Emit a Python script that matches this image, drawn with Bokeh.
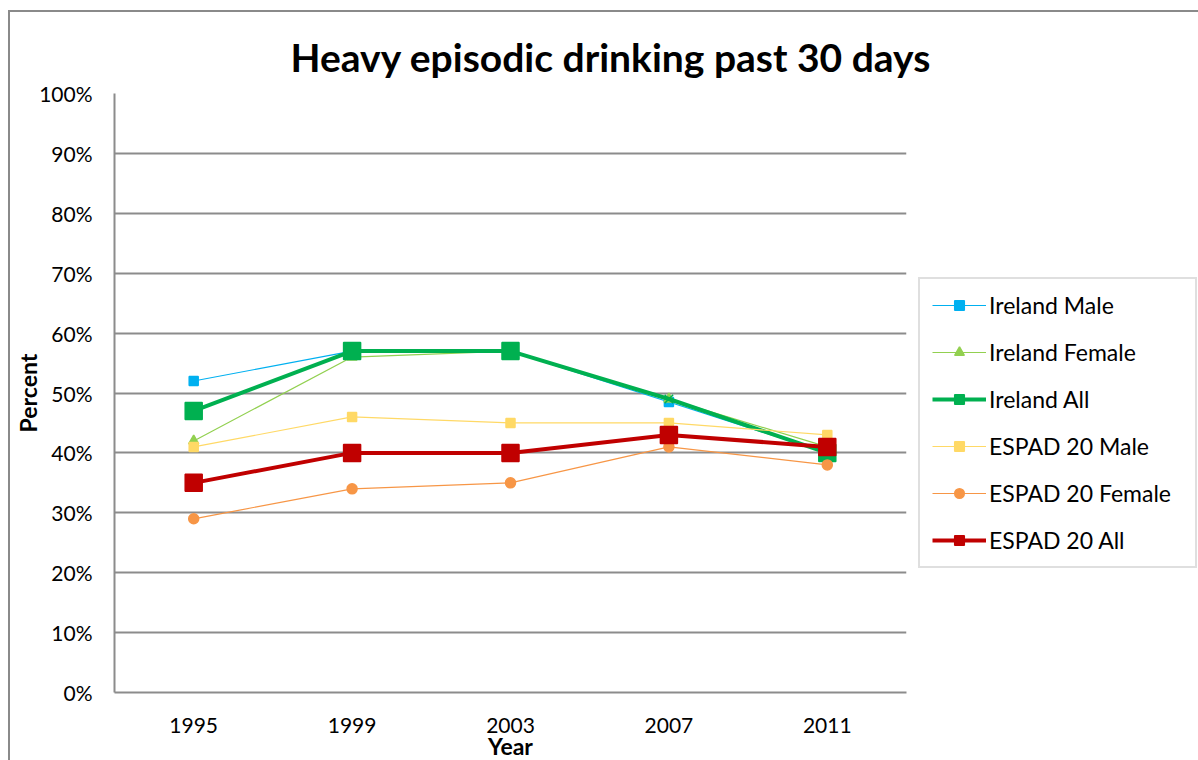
from bokeh.plotting import figure
from bokeh.models import (FactorRange, FixedTicker, PrintfTickFormatter, Legend,
                          LegendItem, ColumnDataSource, Title)
from bokeh.embed import file_html
from bokeh.resources import INLINE

years = ["1995", "1999", "2003", "2007", "2011"]
ireland_male = [52, 57, 57, 48.5, 40]
ireland_female = [42, 56, 57, 49, 41]
ireland_all = [47, 57, 57, 49, 40]
espad_male = [41, 46, 45, 45, 43]
espad_female = [29, 34, 35, 41, 38]
espad_all = [35, 40, 40, 43, 41]
y_ticks = [0, 10, 20, 30, 40, 50, 60, 70, 80, 90, 100]

FONT = "Lato"
GRID = "#8c8c8c"

p = figure(frame_width=792, frame_height=599, x_range=FactorRange(*years, range_padding=0),
           y_range=(0, 100), output_backend="svg", toolbar_location=None,
           min_border_left=114, min_border_right=284, min_border_top=93,
           min_border_bottom=60)
p.styles = {"box-shadow": "inset 8px 10px 0 white, inset 10px 12px 0 #8a8a8a",
            "background": "white"}

p.title = Title(text="Heavy episodic drinking past 30 days", align="left", offset=176,
                text_font=FONT, text_font_size="39px", text_font_style="bold",
                text_color="black", standoff=28)
p.outline_line_color = None
p.background_fill_color = "white"
p.border_fill_alpha = 0

p.xgrid.grid_line_color = None
p.ygrid.grid_line_color = GRID
p.ygrid.grid_line_width = 2
p.yaxis.ticker = FixedTicker(ticks=y_ticks)
p.yaxis.formatter = PrintfTickFormatter(format="%d%%")
for ax in (p.xaxis[0], p.yaxis[0]):
    ax.axis_line_color = GRID
    ax.axis_line_width = 2
    ax.major_tick_line_color = None
    ax.minor_tick_line_color = None
    ax.major_label_text_font = FONT
    ax.major_label_text_font_size = "21px"
    ax.major_label_text_color = "black"
    ax.axis_label_text_font = FONT
    ax.axis_label_text_font_size = "23px"
    ax.axis_label_text_font_style = "bold"
    ax.axis_label_text_color = "black"
p.xaxis.axis_label = "Year"
p.xaxis.major_label_standoff = 19
p.xaxis.axis_label_standoff = -4
p.yaxis.axis_label = "Percent"
p.yaxis.major_label_standoff = 16
p.yaxis.axis_label_standoff = -6

series = [
    ("Ireland Male", ireland_male, "#00b0f0", 1.2, ["square", "square", "square", "square_x", "square"], 9),
    ("Ireland Female", ireland_female, "#92d050", 1.2, ["triangle"] * 5, 10),
    ("Ireland All", ireland_all, "#00b050", 4, ["square", "square", "square", "x", "square"], 17),
    ("ESPAD 20 Male", espad_male, "#ffd966", 1.2, ["square"] * 5, 9),
    ("ESPAD 20 Female", espad_female, "#f79646", 1.2, ["circle"] * 5, 10),
    ("ESPAD 20 All", espad_all, "#c00000", 4, ["square"] * 5, 17),
]

items = []
for name, vals, col, lw, markers, size in series:
    sizes = [size if m != "x" else 12 for m in markers]
    src = ColumnDataSource(dict(x=years, y=vals, m=markers, s=sizes))
    lr = p.line("x", "y", source=src, line_color=col, line_width=lw)
    sr = p.scatter("x", "y", source=src, marker="m", size="s", fill_color=col,
                   line_color=col, line_width=1.5)
    items.append(LegendItem(label=name, renderers=[lr, sr]))

legend = Legend(items=items, location=(12, 124), label_text_font=FONT,
                label_text_font_size="23px", label_text_color="black",
                glyph_width=54, glyph_height=24, label_height=24, label_width=194,
                label_standoff=3, spacing=19, padding=12, margin=0,
                border_line_color="#bfbfbf", border_line_width=2,
                background_fill_color="white", background_fill_alpha=1)
p.add_layout(legend, "right")

open("out.html", "w").write(file_html(p, INLINE))
